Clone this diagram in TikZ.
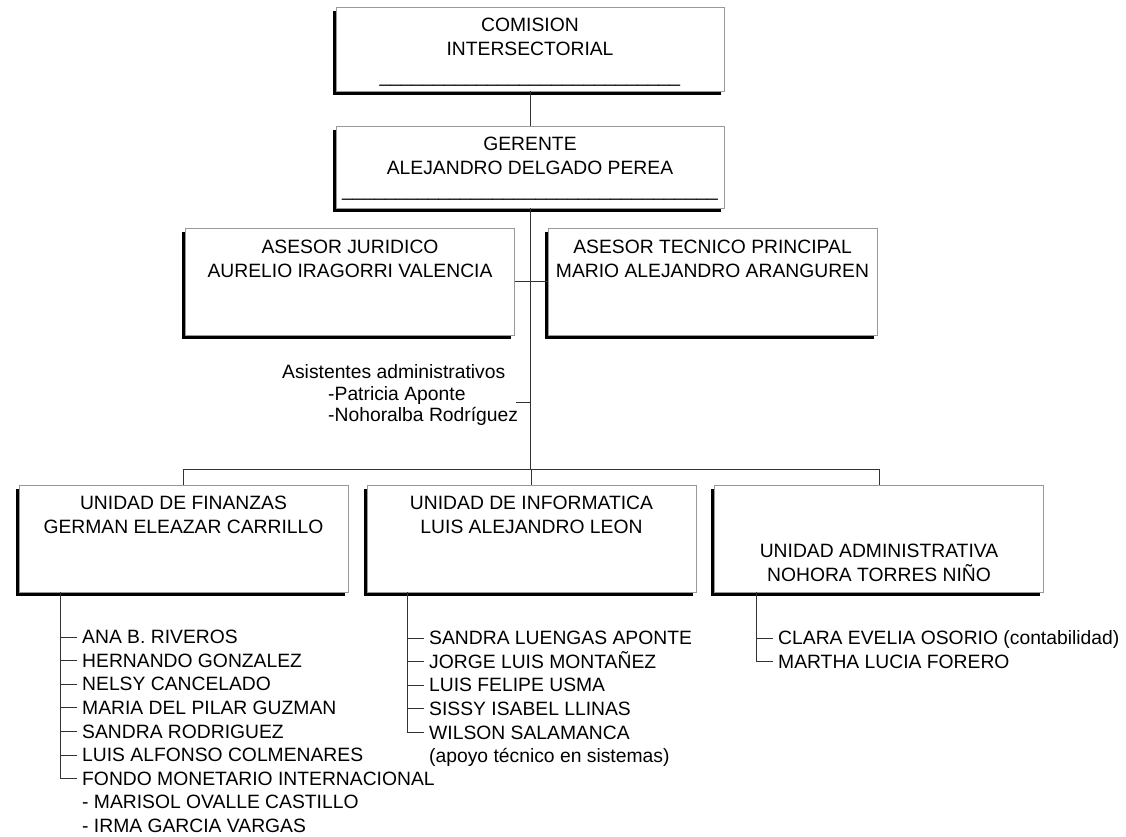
\documentclass[tikz,border=0pt]{standalone}
\usepackage{fontspec}
\setmainfont{Liberation Sans}
\usepackage{tikz}
\usetikzlibrary{positioning, shadows}

\definecolor{boxgray}{gray}{0.6}
\definecolor{linegray}{gray}{0.2}
\newcommand{\orgfont}{\fontsize{19.3pt}{24pt}\selectfont}
\ExplSyntaxOn
\NewDocumentCommand{\firma}{m}{\prg_replicate:nn{#1}{\_}}
\ExplSyntaxOff

\begin{document}
\begin{tikzpicture}[
    x=1pt, y=-1pt,
    box/.style={draw=boxgray, line width=0.8pt, fill=white, inner sep=0pt,
        drop shadow={shadow xshift=-3.5pt, shadow yshift=-3.5pt, fill=black, opacity=1}},
    headbox/.style={box, minimum width=388pt},
    unitbox/.style={box, minimum width=329pt, minimum height=107pt},
    boxtext/.style={font=\orgfont, align=center, inner sep=0pt},
    member/.style={font=\orgfont, anchor=base west, inner xsep=5pt, inner ysep=0pt, text height=13.3pt, text depth=0pt},
    link/.style={draw=linegray, line width=1pt},
]
\useasboundingbox (0,0) rectangle (1126,836);

% Comision and Gerente -- top of the chart
\node[headbox, minimum height=84pt] (comision) at (530,49) {};
\node[boxtext, below=11pt of comision.north] (comision-txt) {COMISION\\INTERSECTORIAL\\[3pt]\firma{28}};
\node[headbox, minimum height=82pt] (gerente) at (530,167) {};
\node[boxtext, below=11pt of gerente.north] (gerente-txt) {GERENTE\\ALEJANDRO DELGADO PEREA\\[-2pt]\firma{35}};

% Asesores -- either side of the trunk
\node[unitbox] (juridico) at (350,281.5) {};
\node[boxtext, below=12pt of juridico.north] (juridico-txt) {ASESOR JURIDICO\\AURELIO IRAGORRI VALENCIA};
\node[unitbox] (tecnico) at (712.5,281.5) {};
\node[boxtext, below=12pt of tecnico.north] (tecnico-txt) {ASESOR TECNICO PRINCIPAL\\MARIO ALEJANDRO ARANGUREN};

% Asistentes administrativos (no box)
\node[font=\fontsize{19.3pt}{21.5pt}\selectfont, align=left, anchor=north west, inner sep=0pt] (asistentes) at (282,364.5)
    {Asistentes administrativos\\\hspace*{46pt}-Patricia Aponte\\\hspace*{46pt}-Nohoralba Rodríguez};
\coordinate (asistentes-link) at (516,402);

% Unidades -- bottom row
\node[unitbox] (finanzas) at (183.5,538.5) {};
\node[boxtext, below=11pt of finanzas.north] (finanzas-txt) {UNIDAD DE FINANZAS\\GERMAN ELEAZAR CARRILLO};
\node[unitbox] (informatica) at (531.5,538.5) {};
\node[boxtext, below=11pt of informatica.north] (informatica-txt) {UNIDAD DE INFORMATICA\\LUIS ALEJANDRO LEON};
\node[unitbox] (admin) at (879,538.5) {};
\node[boxtext, below=59pt of admin.north] (admin-txt) {UNIDAD ADMINISTRATIVA\\NOHORA TORRES NIÑO};

% Connectors -- main trunk and bus
\coordinate (bus) at (530,469);
\draw[link] (comision.south) -- (gerente.north);
\draw[link] (gerente.south) -- (bus);
\draw[link] (juridico.east) -- (tecnico.west);
\draw[link] (asistentes-link) -- (asistentes-link -| bus);
\draw[link] (finanzas.north) |- (bus) -| (admin.north);
\draw[link] (bus -| informatica.north) -- (informatica.north);

% Finanzas staff
\node[member] (ana) at (77,643.7) {ANA B. RIVEROS};
\node[member] (hernando) at (77,667.3) {HERNANDO GONZALEZ};
\node[member] (nelsy) at (77,690.9) {NELSY CANCELADO};
\node[member] (maria) at (77,714.5) {MARIA DEL PILAR GUZMAN};
\node[member] (sandra-r) at (77,738.1) {SANDRA RODRIGUEZ};
\node[member] (luis-a) at (77,761.7) {LUIS ALFONSO COLMENARES};
\node[member] (fondo) at (77,785.3) {FONDO MONETARIO INTERNACIONAL};
\node[member] (marisol) at (77,808.9) {- MARISOL OVALLE CASTILLO};
\node[member] (irma) at (77,832.5) {- IRMA GARCIA VARGAS};
\draw[link] ([xshift=42pt]finanzas.south west) |- (fondo.west);
\draw[link] (ana.west) -- ++(-16,0) (hernando.west) -- ++(-16,0) (nelsy.west) -- ++(-16,0)
    (maria.west) -- ++(-16,0) (sandra-r.west) -- ++(-16,0) (luis-a.west) -- ++(-16,0);

% Informatica staff
\node[member] (sandra-l) at (424,644.7) {SANDRA LUENGAS APONTE};
\node[member] (jorge) at (424,668.3) {JORGE LUIS MONTAÑEZ};
\node[member] (luis-f) at (424,691.9) {LUIS FELIPE USMA};
\node[member] (sissy) at (424,715.5) {SISSY ISABEL LLINAS};
\node[member] (wilson) at (424,739.1) {WILSON SALAMANCA};
\node[member] (apoyo) at (424,762.7) {(apoyo técnico en sistemas)};
\draw[link] ([xshift=41pt]informatica.south west) |- (wilson.west);
\draw[link] (sandra-l.west) -- ++(-16,0) (jorge.west) -- ++(-16,0) (luis-f.west) -- ++(-16,0)
    (sissy.west) -- ++(-16,0);

% Administrativa staff
\node[member] (clara) at (773,644.7) {CLARA EVELIA OSORIO (contabilidad)};
\node[member] (martha) at (773,668.3) {MARTHA LUCIA FORERO};
\draw[link] ([xshift=42pt]admin.south west) |- (martha.west);
\draw[link] (clara.west) -- ++(-16,0);

\end{tikzpicture}
\end{document}
